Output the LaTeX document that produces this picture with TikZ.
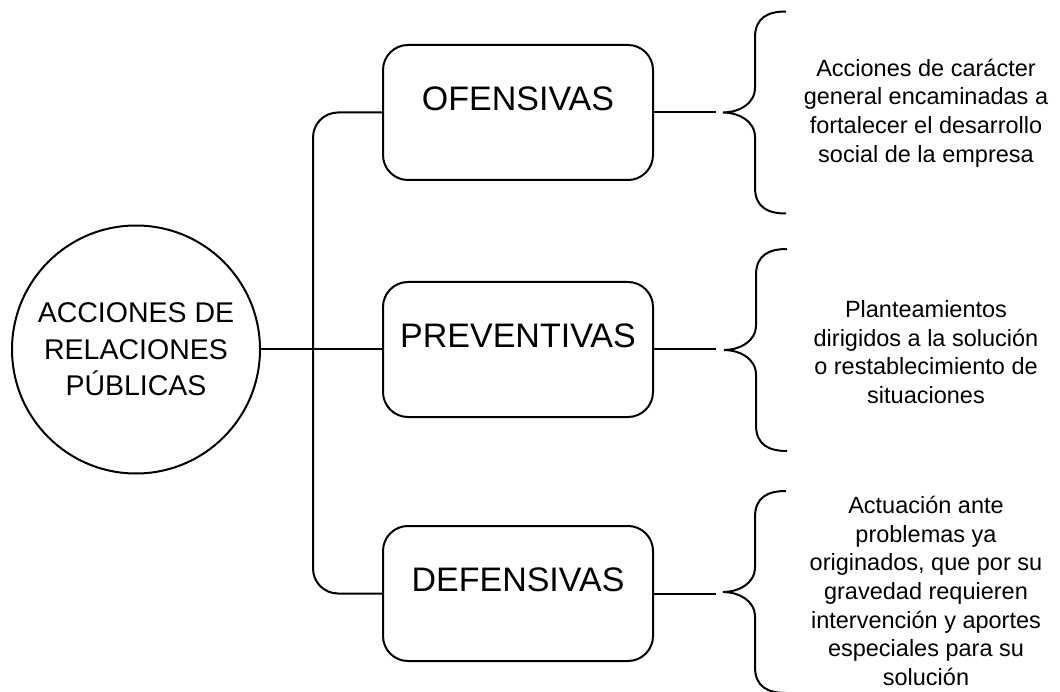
\documentclass[tikz,border=0pt]{standalone}
\usepackage{fontspec}
\setmainfont{Liberation Sans}
\begin{document}
\begin{tikzpicture}[x=1pt,y=-1pt,line width=2pt,
  box/.style={draw,rounded corners=25pt,minimum width=270pt,minimum height=135pt,
    inner sep=0pt,font=\fontsize{34}{40}\selectfont,text depth=28pt},
  hub/.style={draw,circle,minimum size=248pt,inner sep=0pt,align=center,
    font=\fontsize{28.5}{36.5}\selectfont},
  desc/.style={align=center,inner sep=0pt,font=\fontsize{23.5}{28.7}\selectfont},
  curlybrace/.pic={\draw (63,-101) .. controls (45,-101) and (32,-95) .. (32,-75)
     -- (32,-25) .. controls (32,-8) and (15,0) .. (0,0)
     .. controls (15,0) and (32,8) .. (32,25) -- (32,75)
     .. controls (32,95) and (45,101) .. (63,101);}]
\useasboundingbox (0,0) rectangle (1060,692);
\node[hub] (c) at (136,349.5) {ACCIONES DE\\RELACIONES\\PÚBLICAS};
\node[box] (b1) at (518,112.5) {OFENSIVAS};
\node[box] (b2) at (518,349.5) {PREVENTIVAS};
\node[box] (b3) at (518,593.5) {DEFENSIVAS};
\coordinate (j) at (313,349.5);
\draw (c.east) -- (b2.west);
\draw[rounded corners=25pt] (b1.west) -- (b1.west -| j) -- (b3.west -| j) -- (b3.west);
\coordinate (k1) at (716,112.5);
\coordinate (k2) at (716,349.5);
\coordinate (k3) at (716,593.5);
\draw (b1.east) -- (k1);
\draw (b2.east) -- (k2);
\draw (b3.east) -- (k3);
\pic at (723,112.5) {curlybrace};
\pic at (724,350) {curlybrace};
\pic at (723,592) {curlybrace};
\node[desc] (t1) at (926,113) {Acciones de carácter\\general encaminadas a\\fortalecer el desarrollo\\social de la empresa};
\node[desc] (t2) at (926,352) {Planteamientos\\dirigidos a la solución\\o restablecimiento de\\situaciones};
\node[desc] (t3) at (926,591) {Actuación ante\\problemas ya\\originados, que por su\\gravedad requieren\\intervención y aportes\\especiales para su\\solución};
\end{tikzpicture}
\end{document}
